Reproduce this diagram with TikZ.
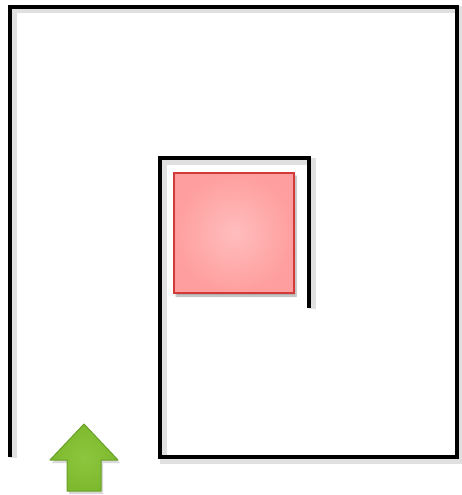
\documentclass[tikz,border=0pt]{standalone}
\usepackage{tikz}
\usetikzlibrary{calc, positioning, shadows.blur}

\definecolor{boxred}{HTML}{FF9E9E}
\definecolor{boxredlight}{HTML}{FFBDBD}
\definecolor{boxredline}{HTML}{D23A3A}
\definecolor{arrowgreen}{HTML}{7DB92E}
\definecolor{arrowgreenlight}{HTML}{8CC63F}
\definecolor{arrowgreenline}{HTML}{6A9F2A}

\tikzset{
    wall/.style={line width=4.5pt, line cap=rect, line join=miter},
    wallshadow/.style={line width=7pt, draw=black!12, line join=miter},
}

\begin{document}
\begin{tikzpicture}[x=1pt, y=-1pt]

    \useasboundingbox (0,0) rectangle (461,495);

    % =================================================================
    % 1. MAIN POINTS OF THE WALLS
    % =================================================================
    \coordinate (OutStart) at (10,455);
    \coordinate (OutTL) at (10,7);
    \coordinate (OutTR) at (457,7);
    \coordinate (OutBR) at (457,457);
    \coordinate (InBL) at (160,457);
    \coordinate (InTL) at (160,158);
    \coordinate (InTR) at (309,158);
    \coordinate (InEnd) at (309,306);

    % =================================================================
    % 2. SOFT SHADOW UNDER THE WALLS
    % =================================================================
    \draw[wallshadow] ($(OutStart)+(3,3)$) -- ($(OutTL)+(3,3)$) -- ($(OutTR)+(3,3)$)
        -- ($(OutBR)+(3,3)$) -- ($(InBL)+(3,3)$) -- ($(InTL)+(3,3)$)
        -- ($(InTR)+(3,3)$) -- ($(InEnd)+(3,3)$);

    % =================================================================
    % 3. THE SPIRAL WALL
    % =================================================================
    \draw[wall] (OutStart) -- (OutTL) -- (OutTR) -- (OutBR)
        -- (InBL) -- (InTL) -- (InTR) -- (InEnd);

    % =================================================================
    % 4. RED BOX INSIDE
    % =================================================================
    \node[draw=boxredline, line width=1.5pt, inner sep=0pt,
          minimum width=120pt, minimum height=120pt,
          inner color=boxredlight, outer color=boxred,
          blur shadow={shadow xshift=2pt, shadow yshift=-3pt, shadow blur steps=6, shadow opacity=35}]
          (box) at (234,233) {};

    % =================================================================
    % 5. GREEN ARROW AT THE ENTRANCE
    % =================================================================
    \coordinate (Tip) at (84,424);
    \coordinate (HeadL) at (50,460);
    \coordinate (HeadR) at (118,460);
    \coordinate (ShaftL) at (67,460);
    \coordinate (ShaftR) at (101,460);
    \coordinate (FootL) at (67,491);
    \coordinate (FootR) at (101,491);

    \fill[black!15] ($(Tip)+(2,3)$) -- ($(HeadR)+(2,3)$) -- ($(ShaftR)+(2,3)$) -- ($(FootR)+(2,3)$)
        -- ($(FootL)+(2,3)$) -- ($(ShaftL)+(2,3)$) -- ($(HeadL)+(2,3)$) -- cycle;
    \draw[arrowgreenline, line width=1pt, line join=round,
          inner color=arrowgreenlight, outer color=arrowgreen]
        (Tip) -- (HeadR) -- (ShaftR) -- (FootR) -- (FootL) -- (ShaftL) -- (HeadL) -- cycle;

\end{tikzpicture}
\end{document}
